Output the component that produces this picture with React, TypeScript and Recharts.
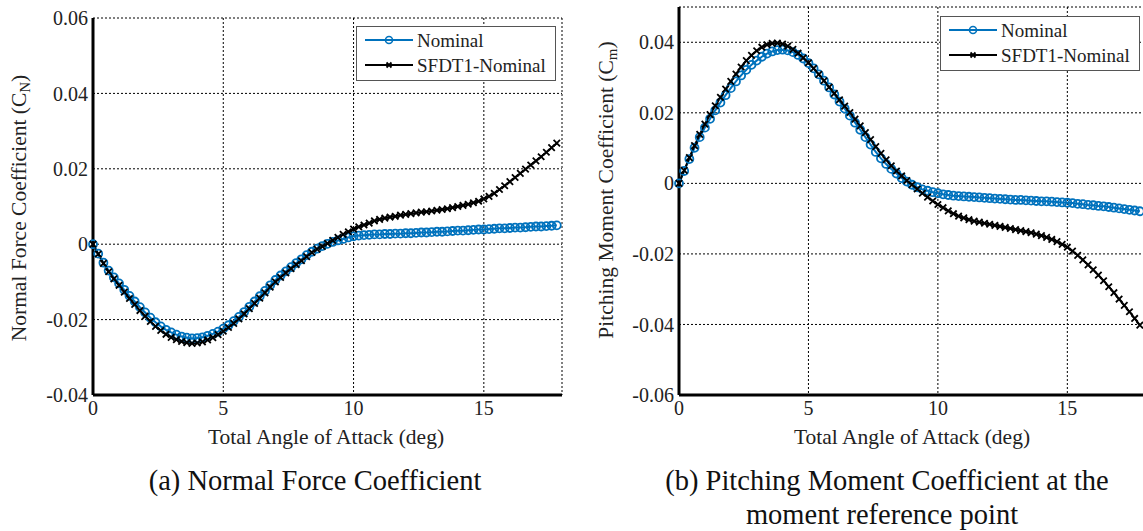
import { LineChart, Line, XAxis, YAxis, CartesianGrid } from "recharts";

const ANGLE = [
  0, 0.2, 0.4, 0.6, 0.8, 1.0, 1.2, 1.4, 1.6, 1.8,
  2.0, 2.2, 2.4, 2.6, 2.8, 3.0, 3.2, 3.4, 3.6, 3.8,
  4.0, 4.2, 4.4, 4.6, 4.8, 5.0, 5.2, 5.4, 5.6, 5.8,
  6.0, 6.2, 6.4, 6.6, 6.8, 7.0, 7.2, 7.4, 7.6, 7.8,
  8.0, 8.2, 8.4, 8.6, 8.8, 9.0, 9.2, 9.4, 9.6, 9.8,
  10.0, 10.2, 10.4, 10.6, 10.8, 11.0, 11.2, 11.4, 11.6, 11.8,
  12.0, 12.2, 12.4, 12.6, 12.8, 13.0, 13.2, 13.4, 13.6, 13.8,
  14.0, 14.2, 14.4, 14.6, 14.8, 15.0, 15.2, 15.4, 15.6, 15.8,
  16.0, 16.2, 16.4, 16.6, 16.8, 17.0, 17.2, 17.4, 17.6, 17.8,
];

// (a) normal force coefficient
const CN_NOMINAL = [
  0, -0.0025, -0.0049, -0.007, -0.0088, -0.0104, -0.0121, -0.0137, -0.0152, -0.0167,
  -0.0181, -0.0195, -0.0207, -0.0218, -0.0227, -0.0234, -0.024, -0.0245, -0.0248, -0.025,
  -0.0249, -0.0247, -0.0243, -0.0238, -0.0232, -0.0224, -0.0215, -0.0204, -0.0193, -0.018,
  -0.0166, -0.0152, -0.0138, -0.0124, -0.0109, -0.0095, -0.0083, -0.0072, -0.0061, -0.005,
  -0.004, -0.0029, -0.002, -0.0012, -0.0005, 0.0001, 0.0006, 0.001, 0.0014, 0.0018,
  0.0021, 0.0023, 0.0024, 0.0025, 0.0026, 0.0026, 0.0027, 0.0027, 0.0028, 0.0028,
  0.0029, 0.0029, 0.003, 0.0031, 0.0031, 0.0032, 0.0033, 0.0033, 0.0034, 0.0035,
  0.0036, 0.0036, 0.0037, 0.0038, 0.0039, 0.0039, 0.004, 0.0041, 0.0042, 0.0042,
  0.0043, 0.0044, 0.0044, 0.0045, 0.0046, 0.0047, 0.0047, 0.0048, 0.0049, 0.005,
];
const CN_SFDT1 = [
  0, -0.0026, -0.0051, -0.0073, -0.0092, -0.0109, -0.0127, -0.0144, -0.016, -0.0176,
  -0.0191, -0.0205, -0.0218, -0.0229, -0.0239, -0.0247, -0.0253, -0.0258, -0.0261, -0.0263,
  -0.0262, -0.0259, -0.0254, -0.0248, -0.024, -0.0231, -0.0221, -0.021, -0.0198, -0.0185,
  -0.0171, -0.0157, -0.0143, -0.0129, -0.0114, -0.01, -0.0088, -0.0076, -0.0065, -0.0054,
  -0.0044, -0.0033, -0.0022, -0.0013, -0.0006, 0.0002, 0.001, 0.0018, 0.0026, 0.0033,
  0.004, 0.0046, 0.0051, 0.0056, 0.0062, 0.0066, 0.0069, 0.0072, 0.0074, 0.0077,
  0.0079, 0.0081, 0.0083, 0.0085, 0.0086, 0.0088, 0.009, 0.0092, 0.0094, 0.0097,
  0.01, 0.0103, 0.0106, 0.011, 0.0114, 0.012, 0.0127, 0.0135, 0.0145, 0.0155,
  0.0166, 0.0177, 0.0188, 0.0199, 0.021, 0.0221, 0.0232, 0.0244, 0.0256, 0.0268,
];

// (b) pitching moment coefficient
const CM_NOMINAL = [
  0, 0.0035, 0.0069, 0.0101, 0.0131, 0.0158, 0.0183, 0.0207, 0.0229, 0.025,
  0.027, 0.0289, 0.0306, 0.0322, 0.0336, 0.0348, 0.0359, 0.0368, 0.0374, 0.0378,
  0.0379, 0.0377, 0.0372, 0.0364, 0.0354, 0.0341, 0.0326, 0.0309, 0.0291, 0.0272,
  0.0252, 0.0232, 0.0212, 0.0192, 0.0172, 0.0152, 0.0131, 0.011, 0.0089, 0.0071,
  0.0055, 0.0041, 0.0028, 0.0015, 0.0005, -0.0004, -0.0011, -0.0017, -0.0021, -0.0025,
  -0.0028, -0.0031, -0.0033, -0.0035, -0.0036, -0.0037, -0.0038, -0.0039, -0.004, -0.0041,
  -0.0042, -0.0043, -0.0044, -0.0045, -0.0046, -0.0047, -0.0047, -0.0048, -0.0049, -0.005,
  -0.0051, -0.0051, -0.0052, -0.0053, -0.0054, -0.0055, -0.0056, -0.0058, -0.0059, -0.0061,
  -0.0062, -0.0064, -0.0065, -0.0067, -0.0069, -0.0071, -0.0073, -0.0075, -0.0077, -0.0079,
];
const CM_SFDT1 = [
  0, 0.0037, 0.0073, 0.0107, 0.0139, 0.0168, 0.0195, 0.022, 0.0244, 0.0267,
  0.0289, 0.031, 0.033, 0.0348, 0.0363, 0.0376, 0.0386, 0.0393, 0.0397, 0.0398,
  0.0395, 0.0389, 0.038, 0.0369, 0.0356, 0.0342, 0.0326, 0.0309, 0.0291, 0.0273,
  0.0255, 0.0237, 0.0219, 0.0201, 0.0182, 0.0163, 0.0144, 0.0124, 0.0104, 0.0085,
  0.0067, 0.005, 0.0035, 0.0021, 0.0008, -0.0004, -0.0016, -0.0028, -0.0039, -0.005,
  -0.006, -0.0069, -0.0078, -0.0086, -0.0093, -0.0098, -0.0103, -0.0107, -0.011, -0.0113,
  -0.0116, -0.0119, -0.0122, -0.0125, -0.0128, -0.0131, -0.0134, -0.0137, -0.014, -0.0144,
  -0.0148, -0.0153, -0.0159, -0.0165, -0.0173, -0.0181, -0.0192, -0.0204, -0.0217, -0.0231,
  -0.0245, -0.026, -0.0276, -0.0293, -0.031, -0.0328, -0.0346, -0.0364, -0.0383, -0.0402,
];

const X_TICKS = [0, 5, 10, 15];
const CN_TICKS = [-0.04, -0.02, 0, 0.02, 0.04, 0.06];
const CM_TICKS = [-0.06, -0.04, -0.02, 0, 0.02, 0.04];
const SERIES_NAMES = ["Nominal", "SFDT1-Nominal"];

const BLUE = "#0072BD";
const INK = "#222";
const FONT = '"Liberation Serif", "Times New Roman", serif';

const cnData = ANGLE.map((a, i) => ({ angle: a, nominal: CN_NOMINAL[i], sfdt1: CN_SFDT1[i] }));
const cmData = ANGLE.map((a, i) => ({ angle: a, nominal: CM_NOMINAL[i], sfdt1: CM_SFDT1[i] }));

const fmtTick = (v: number) => (Math.abs(v) < 1e-9 ? "0" : v.toFixed(2));

function CrossDot(props: any) {
  const { cx, cy, index } = props;
  if (cx == null || cy == null) return null;
  const s = 3.2;
  return (
    <path
      key={`x-${index}`}
      d={`M${cx - s},${cy - s}L${cx + s},${cy + s}M${cx - s},${cy + s}L${cx + s},${cy - s}`}
      stroke="#000"
      strokeWidth={1.8}
      fill="none"
    />
  );
}

// legend box drawn at an absolute spot of the page overlay
function LegendBox({ x, y }: { x: number; y: number }) {
  return (
    <g transform={`translate(${x},${y})`}>
      <rect x={0.5} y={0.5} width={199} height={54} fill="#fff" stroke="#555" strokeWidth={1} />
      <line x1={9} y1={14} x2={57} y2={14} stroke={BLUE} strokeWidth={2} />
      <circle cx={33} cy={14} r={3.5} fill="none" stroke={BLUE} strokeWidth={1.6} />
      <text x={61} y={14} dominantBaseline="central" fontSize={19} fill={INK}>
        {SERIES_NAMES[0]}
      </text>
      <line x1={9} y1={39} x2={57} y2={39} stroke="#000" strokeWidth={2} />
      <path d="M30.5,36.5L35.5,41.5M30.5,41.5L35.5,36.5" stroke="#000" strokeWidth={1.8} />
      <text x={61} y={39} dominantBaseline="central" fontSize={19} fill={INK}>
        {SERIES_NAMES[1]}
      </text>
    </g>
  );
}

interface PanelProps {
  data: { angle: number; nominal: number; sfdt1: number }[];
  yDomain: [number, number];
  yTicks: number[];
  width: number;
  margin: { top: number; right: number; bottom: number; left: number };
  yWidth: number;
}

function Panel({ data, yDomain, yTicks, width, margin, yWidth }: PanelProps) {
  const tickStyle = { fill: INK, fontSize: 20, fontFamily: FONT };
  return (
    <LineChart width={width} height={440} data={data} margin={margin}>
      <CartesianGrid stroke="#000" strokeDasharray="2 2" strokeWidth={1} />
      <XAxis
        type="number"
        dataKey="angle"
        domain={[0, 18]}
        ticks={X_TICKS}
        height={45}
        tick={tickStyle}
        tickSize={0}
        tickMargin={6}
        axisLine={{ stroke: "#000", strokeWidth: 3 }}
      />
      <YAxis
        type="number"
        domain={yDomain}
        ticks={yTicks}
        width={yWidth}
        tick={tickStyle}
        tickSize={0}
        tickMargin={5}
        tickFormatter={fmtTick}
        axisLine={{ stroke: "#000", strokeWidth: 3 }}
        allowDataOverflow
      />
      <Line
        dataKey="nominal"
        name={SERIES_NAMES[0]}
        stroke={BLUE}
        strokeWidth={2}
        dot={{ r: 4, stroke: BLUE, strokeWidth: 1.8, fill: "none" }}
        isAnimationActive={false}
      />
      <Line
        dataKey="sfdt1"
        name={SERIES_NAMES[1]}
        stroke="#000"
        strokeWidth={2}
        dot={CrossDot}
        isAnimationActive={false}
      />
    </LineChart>
  );
}

export default function App() {
  return (
    <div
      style={{
        position: "absolute",
        left: 0,
        top: 0,
        width: 1143,
        height: 531,
        overflow: "hidden",
        background: "#fff",
        fontFamily: FONT,
      }}
    >
      <div style={{ position: "absolute", left: 0, top: 0 }}>
        <Panel
          data={cnData}
          yDomain={[-0.04, 0.06]}
          yTicks={CN_TICKS}
          width={580}
          margin={{ top: 18, right: 18, bottom: 0, left: 0 }}
          yWidth={93}
        />
      </div>
      <div style={{ position: "absolute", left: 587, top: 0 }}>
        <Panel
          data={cmData}
          yDomain={[-0.06, 0.05]}
          yTicks={CM_TICKS}
          width={560}
          margin={{ top: 7, right: 2, bottom: 0, left: 0 }}
          yWidth={92}
        />
      </div>
      <svg
        width={1143}
        height={531}
        style={{ position: "absolute", left: 0, top: 0, pointerEvents: "none" }}
        fontFamily={FONT}
        fill={INK}
      >
        <LegendBox x={356} y={26} />
        <LegendBox x={940} y={16} />
        <text transform="translate(19,208) rotate(-90)" textAnchor="middle" dominantBaseline="central" fontSize={21.5}>
          Normal Force Coefficient (C
          <tspan fontSize={15} dy={6}>N</tspan>
          <tspan dy={-6}>)</tspan>
        </text>
        <text transform="translate(606,190) rotate(-90)" textAnchor="middle" dominantBaseline="central" fontSize={21.5}>
          Pitching Moment Coefficient (C
          <tspan fontSize={15} dy={6}>m</tspan>
          <tspan dy={-6}>)</tspan>
        </text>
        <text x={326} y={444} textAnchor="middle" fontSize={21.5}>Total Angle of Attack (deg)</text>
        <text x={912} y={444} textAnchor="middle" fontSize={21.5}>Total Angle of Attack (deg)</text>
        <text x={315} y={490} textAnchor="middle" fontSize={28.5} fill="#111">(a) Normal Force Coefficient</text>
        <text x={887} y={490} textAnchor="middle" fontSize={28.5} fill="#111">(b) Pitching Moment Coefficient at the</text>
        <text x={882} y={524} textAnchor="middle" fontSize={28.5} fill="#111">moment reference point</text>
      </svg>
    </div>
  );
}
